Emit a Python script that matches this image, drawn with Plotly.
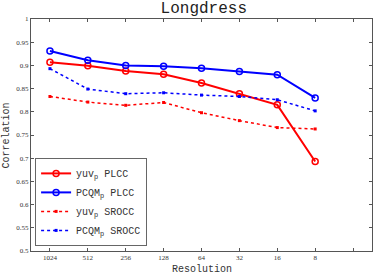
import plotly.graph_objects as go

resolutions = ["1024", "512", "256", "128", "64", "32", "16", "8"]
yuv_plcc = [0.907, 0.899, 0.888, 0.881, 0.862, 0.839, 0.815, 0.693]
pcqm_plcc = [0.931, 0.911, 0.900, 0.898, 0.894, 0.887, 0.880, 0.830]
yuv_srocc = [0.833, 0.821, 0.814, 0.820, 0.798, 0.781, 0.766, 0.763]
pcqm_srocc = [0.893, 0.849, 0.839, 0.841, 0.836, 0.833, 0.826, 0.802]
y_ticks = [0.5, 0.55, 0.6, 0.65, 0.7, 0.75, 0.8, 0.85, 0.9, 0.95, 1]
y_tick_labels = ["0.5", "0.55", "0.6", "0.65", "0.7", "0.75", "0.8", "0.85", "0.9", "0.95", "1"]

xpos = list(range(1, len(resolutions) + 1))
mono = "Liberation Mono"
serif = "Liberation Serif"

fig = go.Figure()
fig.add_trace(go.Scatter(x=xpos, y=yuv_plcc, mode="lines+markers", name="yuv<sub>p</sub> PLCC",
                         line=dict(color="#ff0000", width=2),
                         marker=dict(symbol="circle-open", size=6, color="#ff0000", line=dict(width=1.5))))
fig.add_trace(go.Scatter(x=xpos, y=pcqm_plcc, mode="lines+markers", name="PCQM<sub>p</sub> PLCC",
                         line=dict(color="#0000ff", width=2),
                         marker=dict(symbol="circle-open", size=6, color="#0000ff", line=dict(width=1.5))))
fig.add_trace(go.Scatter(x=xpos, y=yuv_srocc, mode="lines+markers", name="yuv<sub>p</sub> SROCC",
                         line=dict(color="#ff0000", width=1.5, dash="dot"),
                         marker=dict(symbol="square", size=3, color="#ff0000")))
fig.add_trace(go.Scatter(x=xpos, y=pcqm_srocc, mode="lines+markers", name="PCQM<sub>p</sub> SROCC",
                         line=dict(color="#0000ff", width=1.5, dash="dot"),
                         marker=dict(symbol="square", size=3, color="#0000ff")))

fig.update_layout(
    width=374, height=274,
    margin=dict(l=31, r=2, t=19, b=23),
    paper_bgcolor="white", plot_bgcolor="white",
    title=dict(text="Longdress", x=0.545, xanchor="center", y=0.995, yanchor="top",
               font=dict(family=mono, size=16, color="#222")),
    xaxis=dict(range=[0.5, 9.5], tickmode="array", tickvals=xpos + [9], ticktext=resolutions + [""],
               ticks="inside", ticklen=3, tickcolor="#555", showline=True, linecolor="#555", linewidth=1,
               mirror="ticks", showgrid=False, zeroline=False,
               tickfont=dict(family=serif, size=7, color="#333")),
    yaxis=dict(range=[0.5, 1], tickmode="array", tickvals=y_ticks, ticktext=y_tick_labels,
               ticks="inside", ticklen=3, tickcolor="#555", showline=True, linecolor="#555", linewidth=1,
               mirror="ticks", showgrid=False, zeroline=False,
               tickfont=dict(family=serif, size=7, color="#333")),
    legend=dict(x=0.012, y=0.022, xanchor="left", yanchor="bottom",
                bgcolor="white", bordercolor="#666", borderwidth=1,
                font=dict(family=mono, size=10, color="#333"),
                itemwidth=30, tracegroupgap=0),
    showlegend=True,
    annotations=[
        dict(text="Resolution", x=0.5, y=-0.078, xref="paper", yref="paper",
             xanchor="center", yanchor="middle", showarrow=False,
             font=dict(family=mono, size=10, color="#333")),
        dict(text="Correlation", x=-0.072, y=0.5, xref="paper", yref="paper",
             xanchor="center", yanchor="middle", showarrow=False, textangle=-90,
             font=dict(family=mono, size=10, color="#333")),
    ],
)

fig.write_html("out.html", config={"displayModeBar": False},
               post_script="document.body.style.margin='0';")
